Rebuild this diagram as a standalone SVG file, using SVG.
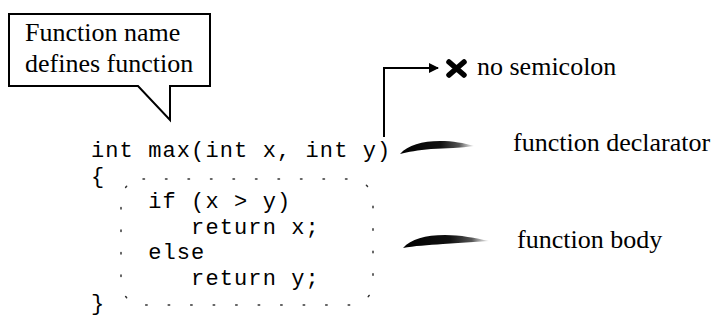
<svg xmlns="http://www.w3.org/2000/svg" width="715" height="322" viewBox="0 0 715 322">
<style>
.lbl{font-family:"Liberation Serif","Times New Roman",serif;font-size:26px;fill:#000}
.code{font-family:"Liberation Mono","Courier New",monospace;font-size:22px;letter-spacing:1.1px;fill:#000;white-space:pre}
.ln{fill:none;stroke:#000;stroke-width:2}
</style>
<defs>
<linearGradient id="brush" x1="0" y1="0" x2="1" y2="0">
<stop offset="0" stop-color="#000"/>
<stop offset="0.55" stop-color="#111"/>
<stop offset="0.8" stop-color="#555"/>
<stop offset="1" stop-color="#ccc" stop-opacity="0.5"/>
</linearGradient>
<marker id="ah" markerWidth="10" markerHeight="10" refX="9" refY="5" orient="auto" markerUnits="userSpaceOnUse">
<path d="M0,0 L10,5 L0,10 Z" fill="#000"/>
</marker>
</defs>
<rect width="715" height="322" fill="#fff"/>

<g id="callout">
<path class="ln" d="M9,14 H210 V86 H170 V120 L138,86 H9 Z"/>
<text class="lbl" x="25" y="41">Function name</text>
<text class="lbl" x="25" y="72">defines function</text>
</g>

<g id="code">
<text class="code" x="91" y="157">int max(int x, int y)</text>
<text class="code" x="91" y="182.5">{</text>
<text class="code" x="91" y="208">    if (x &gt; y)</text>
<text class="code" x="91" y="233.5">       return x;</text>
<text class="code" x="91" y="259">    else</text>
<text class="code" x="91" y="284.5">       return y;</text>
<text class="code" x="91" y="310">}</text>
</g>

<g id="body-box">
<rect x="121" y="179" width="252" height="126" rx="22" fill="none" stroke="#333" stroke-width="1.5" stroke-dasharray="1.5 21" stroke-linecap="round"/>
</g>

<g id="semicolon-note">
<path d="M449,62 L464,75 M464,62 L449,75" stroke="#000" stroke-width="5.5" stroke-linecap="round"/>
<text class="lbl" x="477" y="75">no semicolon</text>
</g>

<g id="declarator-label">
<text class="lbl" x="513" y="151">function declarator</text>
</g>

<g id="body-label">
<text class="lbl" x="517" y="248">function body</text>
</g>

<g id="connectors">
<path d="M384,137 V68 H438" fill="none" stroke="#000" stroke-width="2" marker-end="url(#ah)"/>
<path d="M400,154 C408,145 422,141 440,141 C453,141 464,143 474,146 C461,148 446,148 431,149 C418,150 408,152 400,154 Z" fill="url(#brush)"/>
<path d="M403,248 C411,239 425,235 445,235 C460,235 476,238 489,241 C473,242 458,243 443,244 C428,245 414,246 403,248 Z" fill="url(#brush)"/>
</g>
</svg>
